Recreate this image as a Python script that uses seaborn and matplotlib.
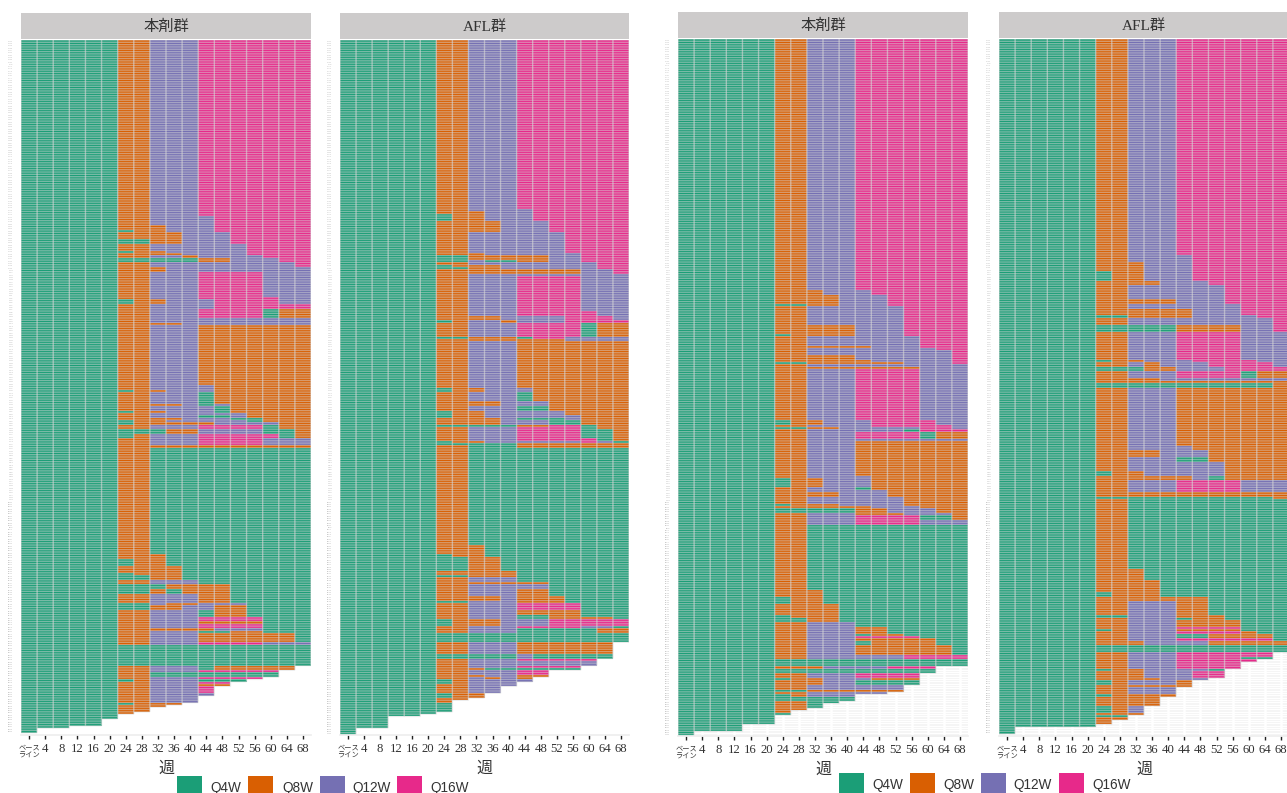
#!/usr/bin/env python3
"""投与間隔の推移（4パネル, 本剤群 / AFL群）"""

import numpy as np
import pandas as pd
import matplotlib
matplotlib.use("Agg")
import matplotlib.pyplot as plt
import seaborn as sns
from matplotlib.colors import ListedColormap
from matplotlib.patches import Rectangle

W, H = 1287, 793
N_ROWS = 300

WEEK_LABELS = ["ベース\nライン", "4", "8", "12", "16", "20", "24", "28", "32", "36",
               "40", "44", "48", "52", "56", "60", "64", "68"]
INTERVALS = ["Q4W", "Q8W", "Q12W", "Q16W"]
COLORS = ["#1B9E77", "#D95F02", "#7570B3", "#E7298A"]
CODES = {"A": 1.0, "B": 2.0, "C": 3.0, "D": 4.0, ".": np.nan}

# block of rows: ends = last row index of the block, tails = weeks 24..68 (weeks 0..20 are all Q4W)
P1_ENDS = [76, 80, 82, 83, 86, 88, 91, 92, 93, 94, 96, 98, 100, 111, 112, 114, 116, 120, 122, 123,
           149, 151, 152, 157, 158, 160, 161, 162, 163, 164, 165, 166, 168, 170, 172, 175, 176,
           222, 224, 227, 230, 231, 233, 235, 237, 239, 243, 244, 246, 249, 251, 252, 254, 255,
           256, 260, 261, 270, 272, 273, 275, 276, 277, 278, 279, 282, 283, 286, 287, 288, 290,
           291, 293]
P1_TAILS = ["BBCCCDDDDDDD", "BBCCCCDDDDDD", "BBBCCCDDDDDD", "ABBCCCDDDDDD", "BBBBCCCDDDDD",
            "AABBCCCDDDDD", "BBCCCCCCDDDD", "ABBCCCCCDDDD", "BBBBCCCCDDDD", "BBCCBCCCCDDD",
            "AAAAABBCCCDD", "BBCCCCCCCCCD", "BBBCCCCCCCCC", "BBCCCDDDDCCC", "BBCCCDDDDDCC",
            "ABBCCCDDDDCC", "BBCCCCDDDDDD", "BBCCCDDDDABB", "BBCCCCCCCCCC", "BBBBCCCCCCCC",
            "BBCCCBBBBBBB", "BBCCCCBBBBBB", "ABBCCCBBBBBB", "BBCCCABBBBBB", "BBBBCACBBBBB",
            "BBCCCCABBBBB", "ABBCCCABBBBB", "BBCCCCCCBBBB", "BBCCCAACBBBB", "BBBBCCCAABBB",
            "ABBCCCCCABBB", "ABBBBBCCCCBB", "BBCCCDDDDABB", "AAABBCCCCAAB", "ABCCCDDDDDAB",
            "BBCCCDDDDCCC", "BBBBBBBBBBBB", "BBAAAAAAAAAA", "BBBAAAAAAAAA", "ABBAAAAAAAAA",
            "BBBBAAAAAAAA", "ABBBAAAAAAAA", "AABBAAAAAAAA", "BBCCCAAAAAAA", "AAABBBBAAAAA",
            "AABABBBAAAAA", "BBCCCBBAAAAA", "AACBBCCCAAAA", "AABBCCBBAAAA", "BBCCCABBAAAA",
            "BBCCCDDDDAAA", "BBCCCBBBBAAA", "BBCCCDDDDAAA", "BBBBBBCCCAAA", "BBCCCAABBAAA",
            "BBCCCBBBBBBA", "BBCCCDDDDCCC", "AAAAAAAAAAAA", "BBCCCABBBBB.", "BBCCCDDDDD..",
            "BBAAAAAAAA..", "BBCCCDDDD...", "ABCCCAAA....", "BBCCCDD.....", "BBCCCBB.....",
            "BBCCCD......", "BBCCCC......", "BBCCC.......", "ABBB........", "BBB.........",
            "BB..........", "B...........", "............"]
P1_STUB_ENDS = [296, 297, 299]
P1_STUB_COLS = [5, 3, 1]

P2_ENDS = [73, 74, 75, 78, 83, 92, 93, 95, 96, 97, 98, 99, 101, 102, 117, 119, 121, 122, 128, 129,
           130, 150, 152, 156, 158, 160, 162, 163, 164, 166, 167, 168, 172, 173, 174, 175, 176,
           218, 222, 223, 229, 231, 232, 234, 235, 237, 240, 242, 243, 246, 248, 249, 250, 253,
           254, 256, 260, 265, 267, 268, 270, 271, 272, 274, 275, 276, 277, 278, 279, 282, 284,
           285, 286, 290, 291]
P2_TAILS = ["BBCCCDDDDDDD", "BBCCCCDDDDDD", "BBBCCCDDDDDD", "ABBCCCDDDDDD", "BBBBCCCDDDDD",
            "BBCCCCCCDDDD", "BBBCCCCCCDDD", "AABBBBBCCDDD", "AACAABBCCDDD", "BBCCCCCCCCDD",
            "ABBBCCCCCCDD", "AABBCCCCCCDD", "BBBBBBBBBCCD", "BBCCCCCCCCCC", "BBCCCDDDDCCC",
            "BBCCCDDDDDCC", "BBBBCCCCDDDC", "ABCCBCCCDDDD", "BBCCCDDDDABB", "AABBBADDCCCC",
            "BBBBBBBBCCCC", "BBCCCBBBBBBB", "ABBCCCBBBBBB", "BBCCCABBBBBB", "BBBBCCCBBBBB",
            "BBCCCAABBBBB", "ABBCCCCCBBBB", "ABBCCCCCCBBB", "BBBBCAAACBBB", "BBBBCCCAABBB",
            "AAAAABBDDABB", "BBCCCDDDDABB", "BBCCCDDDDAAB", "BBCCCDDDDDAB", "ABBCCCCCCDCA",
            "AAAAABBBBBBB", "BBAAABBBBBBB", "BBAAAAAAAAAA", "BBBAAAAAAAAA", "ABBAAAAAAAAA",
            "AABBAAAAAAAA", "BBBBBAAAAAAA", "AABBBAAAAAAA", "BBCCCAAAAAAA", "BBBBBBBAAAAA",
            "BBCCCCCAAAAA", "BBCCCBBAAAAA", "BBBBCBBBAAAA", "AACCCBBBAAAA", "BBCCCDDDDAAA",
            "BBCCCBBBBAAA", "BBCCCAABBAAA", "BBCCCAABBBBA", "ABBBCCCDDDDD", "BBCCCDDDDCCA",
            "BBCCCAAAAABB", "AAAAAAAAAAAA", "BBCCCBBBBBB.", "AAAAACAAAAA.", "BBCCCDDDDD..",
            "BBCCCCCCCC..", "BBCCCDDDD...", "BBBAAAAAA...", "BBCCCDD.....", "BBBCCBB.....",
            "BBCBCB......", "ABCCCC......", "ABCCC.......", "BBCCC.......", "BBCC........",
            "ABB.........", "BB..........", "B...........", "A...........", "............"]
P2_STUB_ENDS = [292, 297, 300]
P2_STUB_COLS = [5, 3, 1]

P3_ENDS = [108, 110, 114, 115, 123, 127, 128, 132, 133, 134, 136, 138, 139, 140, 141, 142, 164,
           166, 167, 168, 169, 172, 173, 188, 189, 193, 194, 195, 197, 200, 201, 202, 204, 205,
           207, 209, 237, 240, 243, 248, 249, 251, 253, 256, 257, 258, 259, 261, 265, 267, 270,
           271, 273, 275, 276, 278, 280, 281, 282, 283, 285, 286, 288, 289, 290, 291, 295]
P3_TAILS = ["BBCCCDDDDDDD", "BBBCCCDDDDDD", "BBBBCCCDDDDD", "AABBCCCDDDDD", "BBCCCCCCDDDD",
            "BBBBBCCCDDDD", "ABBBBCCCDDDD", "BBCCCCCCCDDD", "BBBBBBCCCDDD", "BBCCCCCCCCDD",
            "BBCCCCCCCCCD", "BBBBBCCCCCCD", "BBBBBBCCCCCD", "AABBBBBBCCCD", "BBCCCCCCCCCC",
            "BBBBBBBBBCCC", "BBCCCDDDDCCC", "ABBCCCDDDDCC", "BBCCCCDDDDDC", "AABBCCCCCDDC",
            "BBCCCCCCADDD", "BBCCCDDDDABB", "BBCCCCCCCCCC", "BBCCCBBBBBBB", "BBCCCCBBBBBB",
            "ABBCCCBBBBBB", "BBCCCABBBBBB", "BBCCCCCBBBBB", "BBBBCCCBBBBB", "BBCCCCCCBBBB",
            "ABBBCCCCBBBB", "BBBBBBCCCBBB", "AAAAABBCCCBB", "BBCCCBBBCCCB", "BBCCCDDDDAAB",
            "BBCCCDDDDCCC", "BBAAAAAAAAAA", "BBBAAAAAAAAA", "ABBAAAAAAAAA", "BBBBAAAAAAAA",
            "ABBBAAAAAAAA", "AABBAAAAAAAA", "BBCCCAAAAAAA", "BBCCCBBAAAAA", "BBCCCABBAAAA",
            "BBCCCDDDDAAA", "BBCCCBBBBBAA", "BBCCCABBBBAA", "BBCCCBBBBBBA", "BBCCCCCCDDDD",
            "AAAAAAAAAAAA", "BBBCCCCDDD..", "AAAAAAAAAA..", "BBCCCDDDD...", "ABBCCCBBB...",
            "BBBCCAAAA...", "BBCCCCCC....", "AABBBBBB....", "BBCCCCC.....", "ABCCC.......",
            "AAAAA.......", "BBAA........", "BBA.........", "BB..........", "B...........",
            "A...........", "............"]
P3_STUB_ENDS = [298, 300]
P3_STUB_COLS = [4, 1]

P4_ENDS = [93, 96, 100, 104, 106, 112, 114, 116, 119, 120, 123, 126, 138, 139, 141, 143, 146,
           147, 148, 150, 175, 177, 180, 182, 186, 188, 190, 195, 197, 198, 228, 233, 238, 240,
           242, 248, 249, 250, 253, 254, 255, 256, 258, 259, 261, 264, 266, 267, 268, 271, 272,
           275, 276, 278, 279, 282, 283, 287, 290, 291, 292, 293, 295, 296]
P4_TAILS = ["BBCCCDDDDDDD", "BBCCCCDDDDDD", "BBBCCCDDDDDD", "ABBCCCDDDDDD", "BBBBCCCDDDDD",
            "BBCCCCCCDDDD", "BBBBBCCCDDDD", "BBCCCCCCCDDD", "BBBBBBCCCDDD", "AABBBBCCCCDD",
            "BBCCCCCCCCCD", "AAAAABBBBCCD", "BBCCCDDDDCCC", "ABBCCCDDDDCC", "BBCBCCCDDDDC",
            "AAABBCCCDDDD", "BBCCCDDDDABB", "BBBBCCCCCCCC", "BBBBBBBBBBBB", "AAAAAAAAAAAB",
            "BBCCCBBBBBBB", "BBCCCCBBBBBB", "BBBBCCCBBBBB", "BBCCCAABBBBB", "BBCCCCCCBBBB",
            "ABBCCCCCBBBB", "BBBBBBCABBBB", "BBCCCDDDDCCC", "BBBBBBBBBBBB", "AAAAAAAAAAAB",
            "BBAAAAAAAAAA", "BBBAAAAAAAAA", "BBBBAAAAAAAA", "ABBBAAAAAAAA", "BBBBBBBAAAAA",
            "BBCCCBBAAAAA", "AACCCBBBAAAA", "BBCCCABBAAAA", "BBCCCBBBBAAA", "BBCCCDDDDAAA",
            "ABCCCBBBBAAA", "BBCCCDDDDBAA", "BBCCCAABBBBA", "BBCCCDDDDDDA", "BBBCCCCBBBBB",
            "AAAAAAAAAAAA", "BBCCCDDDDDD.", "BBCCCDDDDAA.", "BBCCCDDDDD..", "BBCCCDDDD...",
            "ABBCCCCA....", "BBBCCCDD....", "BBBBCCC.....", "ABCCCB......", "BBBBBB......",
            "BBCCC.......", "ABBBB.......", "BBBB........", "ABC.........", "BBB.........",
            "AA..........", "BB..........", "B...........", "............"]
P4_STUB_ENDS = [299]
P4_STUB_COLS = [1]

PANELS = [
    ("本剤群", P1_ENDS, P1_TAILS, P1_STUB_ENDS, P1_STUB_COLS, 21, 311, 13, 40, 735, False),
    ("AFL群", P2_ENDS, P2_TAILS, P2_STUB_ENDS, P2_STUB_COLS, 340, 629, 13, 40, 735, False),
    ("本剤群", P3_ENDS, P3_TAILS, P3_STUB_ENDS, P3_STUB_COLS, 678, 968, 12, 39, 736, True),
    ("AFL群", P4_ENDS, P4_TAILS, P4_STUB_ENDS, P4_STUB_COLS, 999, 1289, 12, 39, 736, True),
]

SERIF = ["Liberation Serif", "Noto Sans CJK JP"]
SANS = ["Liberation Sans"]

sns.set_theme(style="white")
plt.rcParams["font.family"] = SERIF


def build_matrix(ends, tails, stub_ends, stub_cols):
    rows = []
    start = 0
    for end, tail in zip(ends, tails):
        rows.extend(["AAAAAA" + tail] * (end - start))
        start = end
    for end, n_cols in zip(stub_ends, stub_cols):
        rows.extend([("A" * n_cols).ljust(18, ".")] * (end - start))
        start = end
    rows.extend(["." * 18] * (N_ROWS - start))
    mat = np.array([[CODES[c] for c in r] for r in rows])
    return pd.DataFrame(mat), start


def px_axes(fig, x0, x1, y0, y1):
    return fig.add_axes([x0 / W, 1 - y1 / H, (x1 - x0) / W, (y1 - y0) / H])


fig = plt.figure(figsize=(W / 100, H / 100), dpi=100, facecolor="white")
cmap = ListedColormap(COLORS)

for title, ends, tails, stub_ends, stub_cols, x0, x1, strip_top, top, bottom, bg_grid in PANELS:
    df, n_used = build_matrix(ends, tails, stub_ends, stub_cols)
    ax = px_axes(fig, x0, x1, top, bottom)
    ids = [f"{1001 + i}" if i < n_used else "" for i in range(N_ROWS)]
    sns.heatmap(df, mask=df.isna(), cmap=cmap, vmin=0.5, vmax=4.5, cbar=False,
                linewidths=0, xticklabels=WEEK_LABELS, yticklabels=ids, ax=ax)

    if bg_grid:
        # 欠測部分の薄いグリッド
        ax.set_facecolor("#f5f5f5")
        ax.hlines(np.arange(N_ROWS) + 0.5, 0, 18, color="white", lw=0.8, zorder=0)
        ax.vlines(np.arange(18) + 0.5, 0, N_ROWS, color="white", lw=1.8, zorder=0)

    # セルの枠線（データのある範囲だけ）
    valid = df.notna().to_numpy()
    row_len = valid.sum(axis=1)
    col_len = valid.sum(axis=0)
    row_idx = np.arange(N_ROWS + 1)
    row_edge = np.r_[row_len[0], np.maximum(row_len[:-1], row_len[1:]), row_len[-1]]
    hl = ax.hlines(row_idx, 0, row_edge, color="#d6d6d6", lw=0.95, alpha=0.5, zorder=2)
    hl.set_snap(False)
    col_edge = np.r_[col_len[0], np.maximum(col_len[:-1], col_len[1:]), col_len[-1]]
    vl = ax.vlines(np.arange(19), 0, col_edge, color="#d8d8d8", lw=1.0, alpha=0.6, zorder=2)
    vl.set_snap(False)

    ax.tick_params(axis="x", length=3, width=1.0, color="#222222", pad=3, bottom=True)
    ax.tick_params(axis="y", length=0, pad=5.8)
    ax.set_xticklabels(WEEK_LABELS, rotation=0, fontsize=9.2, color="#333333")
    base = ax.get_xticklabels()[0]
    base.set_fontsize(5.2)
    base.set_linespacing(1.05)
    base.set_family(["Noto Sans CJK JP"])
    for lab in ax.get_yticklabels():
        lab.set_fontsize(1.7)
        lab.set_color("#999999")
        lab.set_rotation(0)
    ax.set_xlabel("週", fontsize=11.5, color="#333333", labelpad=1)
    ax.set_ylabel("")
    for name, spine in ax.spines.items():
        spine.set_visible(name == "bottom")
        spine.set_color("#eeeeee")

    strip = px_axes(fig, x0, x1, strip_top, top - 1)
    strip.set_facecolor("#cdcbcb")
    strip.set_xticks([])
    strip.set_yticks([])
    for spine in strip.spines.values():
        spine.set_visible(False)
    strip.text(0.5, 0.47, title, transform=strip.transAxes, ha="center", va="center",
               fontsize=11, color="#333333")

# legends
LEGEND_LEFT_PATCH = [177, 248, 320, 397]
LEGEND_LEFT_TEXT = [210, 282, 352, 430]
LEGEND_RIGHT_PATCH = [839, 910, 981, 1059]
LEGEND_RIGHT_TEXT = [872, 943, 1013, 1092]
for patch_xs, text_xs, patch_top, text_y in [(LEGEND_LEFT_PATCH, LEGEND_LEFT_TEXT, 776, 788),
                                             (LEGEND_RIGHT_PATCH, LEGEND_RIGHT_TEXT, 773, 785)]:
    for px, tx, col, name in zip(patch_xs, text_xs, COLORS, INTERVALS):
        fig.add_artist(Rectangle((px / W, 0), 25 / W, (H - patch_top) / H,
                                 transform=fig.transFigure, color=col, lw=0))
        fig.text(tx / W, 1 - text_y / H, name, family=SANS, fontsize=9.8,
                 color="#333333", ha="left", va="center")

plt.savefig("out.png", dpi=100)
plt.close()
